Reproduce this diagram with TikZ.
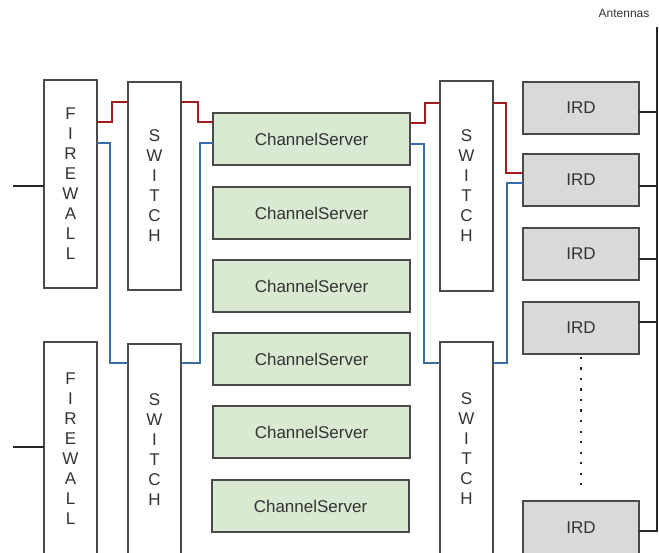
\documentclass[tikz,border=0pt]{standalone}
\usepackage{fontspec}
\setmainfont{Liberation Sans}
\definecolor{boxline}{HTML}{4A4A4A}
\definecolor{csfill}{HTML}{D9EAD3}
\definecolor{irdfill}{HTML}{D9D9D9}
\definecolor{wred}{HTML}{A11D1D}
\definecolor{wblue}{HTML}{3A6EA8}
\definecolor{txt}{HTML}{333333}
\begin{document}
\begin{tikzpicture}[x=1pt,y=-1pt,
  box/.style={draw=boxline,line width=1.2pt,inner sep=0pt,outer sep=0pt,anchor=north west,text=txt,font=\fontsize{17}{20}\selectfont},
  tallbox/.style={box,fill=white,minimum width=53pt,align=center},
  csbox/.style={box,fill=csfill,minimum width=197pt,minimum height=52pt},
  irdbox/.style={box,fill=irdfill,minimum width=116pt,minimum height=52pt},
  redw/.style={draw=wred,line width=1.6pt},
  bluew/.style={draw=wblue,line width=1.6pt},
  blackw/.style={draw=black!85,line width=1.5pt}]
\useasboundingbox (0,0) rectangle (659,553);
% firewalls and switches
\node[tallbox,minimum height=208pt] (fw1) at (44,80) {F\\I\\R\\E\\W\\A\\L\\L};
\node[tallbox,minimum height=214pt] (fw2) at (44,342) {F\\I\\R\\E\\W\\A\\L\\L};
\node[tallbox,minimum height=208pt] (sw1) at (128,82) {S\\W\\I\\T\\C\\H};
\node[tallbox,minimum height=212pt] (sw2) at (128,344) {S\\W\\I\\T\\C\\H};
\node[tallbox,minimum height=210pt] (sw3) at (440,81) {S\\W\\I\\T\\C\\H};
\node[tallbox,minimum height=214pt] (sw4) at (440,342) {S\\W\\I\\T\\C\\H};
% channel servers
\node[csbox] (cs1) at (213,113) {ChannelServer};
\node[csbox] (cs2) at (213,187) {ChannelServer};
\node[csbox] (cs3) at (213,260) {ChannelServer};
\node[csbox] (cs4) at (213,333) {ChannelServer};
\node[csbox] (cs5) at (213,406) {ChannelServer};
\node[csbox] (cs6) at (212,480) {ChannelServer};
% IRDs
\node[irdbox] (ird1) at (523,82) {IRD};
\node[irdbox] (ird2) at (523,154) {IRD};
\node[irdbox] (ird3) at (523,228) {IRD};
\node[irdbox] (ird4) at (523,302) {IRD};
\node[irdbox,minimum height=60pt] (ird5) at (523,501) {\raisebox{7pt}{IRD}};
% inputs
\coordinate (in1) at (13,186);
\coordinate (in2) at (13,447);
\draw[blackw] (in1) -- (fw1.west |- in1);
\draw[blackw] (in2) -- (fw2.west |- in2);
% red path
\draw[redw] (fw1.east |- 0,122) -| (112,102) -- (sw1.west |- 0,102);
\draw[redw] (sw1.east |- 0,102) -| (198,122) -- (cs1.west |- 0,122);
\draw[redw] (cs1.east |- 0,123) -| (425,103) -- (sw3.west |- 0,103);
\draw[redw] (sw3.east |- 0,103) -| (506,173) -- (ird2.west |- 0,173);
% blue path
\draw[bluew] (fw1.east |- 0,143) -| (110,363) -- (sw2.west |- 0,363);
\draw[bluew] (sw2.east |- 0,363) -| (200,143) -- (cs1.west |- 0,143);
\draw[bluew] (cs1.east |- 0,144) -| (424,363) -- (sw4.west |- 0,363);
\draw[bluew] (sw4.east |- 0,363) -| (507,183) -- (ird2.west |- 0,183);
% antennas
\coordinate (anttop) at (657,27);
\coordinate (antbot) at (657,531);
\node[font=\fontsize{12}{14}\selectfont,text=txt] (antlabel) at (624,13) {Antennas};
\draw[blackw] (anttop) -- (antbot) -- (ird5.east |- antbot);
\draw[blackw] (ird1.east |- 0,112) -- (anttop |- 0,112);
\draw[blackw] (ird2.east |- 0,186) -- (anttop |- 0,186);
\draw[blackw] (ird3.east |- 0,259) -- (anttop |- 0,259);
\draw[blackw] (ird4.east |- 0,322) -- (anttop |- 0,322);
% dotted continuation
\draw[black!85,line width=2.2pt,dash pattern=on 2.2pt off 8.3pt] ([yshift=-3pt]ird4.south) -- ([yshift=12pt]ird5.north);
\end{tikzpicture}
\end{document}
